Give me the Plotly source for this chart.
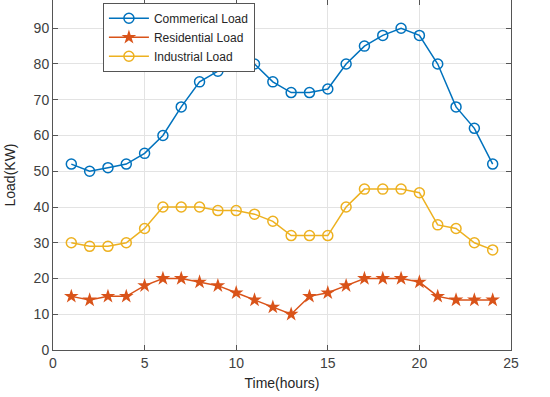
import plotly.graph_objects as go

hours = list(range(1, 25))
commercial = [52, 50, 51, 52, 55, 60, 68, 75, 78, 80, 80, 75, 72, 72, 73, 80, 85, 88, 90, 88, 80, 68, 62, 52]
residential = [15, 14, 15, 15, 18, 20, 20, 19, 18, 16, 14, 12, 10, 15, 16, 18, 20, 20, 20, 19, 15, 14, 14, 14]
industrial = [30, 29, 29, 30, 34, 40, 40, 40, 39, 39, 38, 36, 32, 32, 32, 40, 45, 45, 45, 44, 35, 34, 30, 28]
x_ticks = [0, 5, 10, 15, 20, 25]
y_ticks = [0, 10, 20, 30, 40, 50, 60, 70, 80, 90]

fig = go.Figure()
fig.add_trace(go.Scatter(x=hours, y=commercial, mode="lines+markers", name="Commerical Load",
                         line=dict(color="#0072BD", width=1.5),
                         marker=dict(symbol="circle-open", size=10, color="#0072BD", line=dict(width=1.5))))
fig.add_trace(go.Scatter(x=hours, y=residential, mode="lines+markers", name="Residential Load",
                         line=dict(color="#D95319", width=1.5),
                         marker=dict(symbol="star", size=11, color="#D95319")))
fig.add_trace(go.Scatter(x=hours, y=industrial, mode="lines+markers", name="Industrial Load",
                         line=dict(color="#EDB120", width=1.5),
                         marker=dict(symbol="circle-open", size=10, color="#EDB120", line=dict(width=1.5))))

axis_common = dict(showgrid=True, gridcolor="#e3e3e3", gridwidth=1, zeroline=False,
                   showline=True, linecolor="#555555", linewidth=1, mirror="ticks",
                   ticks="inside", ticklen=5, tickcolor="#555555", automargin=False,
                   tickfont=dict(family="Liberation Sans, Arial", size=14, color="#404040"))

fig.update_layout(
    width=550, height=397,
    margin=dict(l=53, r=39, t=0, b=47, pad=0),
    paper_bgcolor="white", plot_bgcolor="white",
    font=dict(family="Liberation Sans, Arial", color="#262626"),
    xaxis=dict(range=[0, 25], tickvals=x_ticks,
               title=dict(text="Time(hours)", font=dict(size=14, color="#262626"), standoff=8),
               **axis_common),
    yaxis=dict(range=[0, 97.9], tickvals=y_ticks,
               title=dict(text="Load(KW)", font=dict(size=14, color="#262626"), standoff=14),
               **axis_common),
    legend=dict(x=0.109, y=0.992, xanchor="left", yanchor="top",
                bgcolor="white", bordercolor="#555555", borderwidth=1,
                font=dict(size=12, color="#262626"), tracegroupgap=0, itemwidth=40),
    showlegend=True,
)

fig.write_html("out.html", config={"displayModeBar": False})
with open("out.html", "r", encoding="utf-8") as f:
    html = f.read()
html = html.replace("<body>", '<body style="margin:0;padding:0;overflow:hidden">', 1)
with open("out.html", "w", encoding="utf-8") as f:
    f.write(html)
